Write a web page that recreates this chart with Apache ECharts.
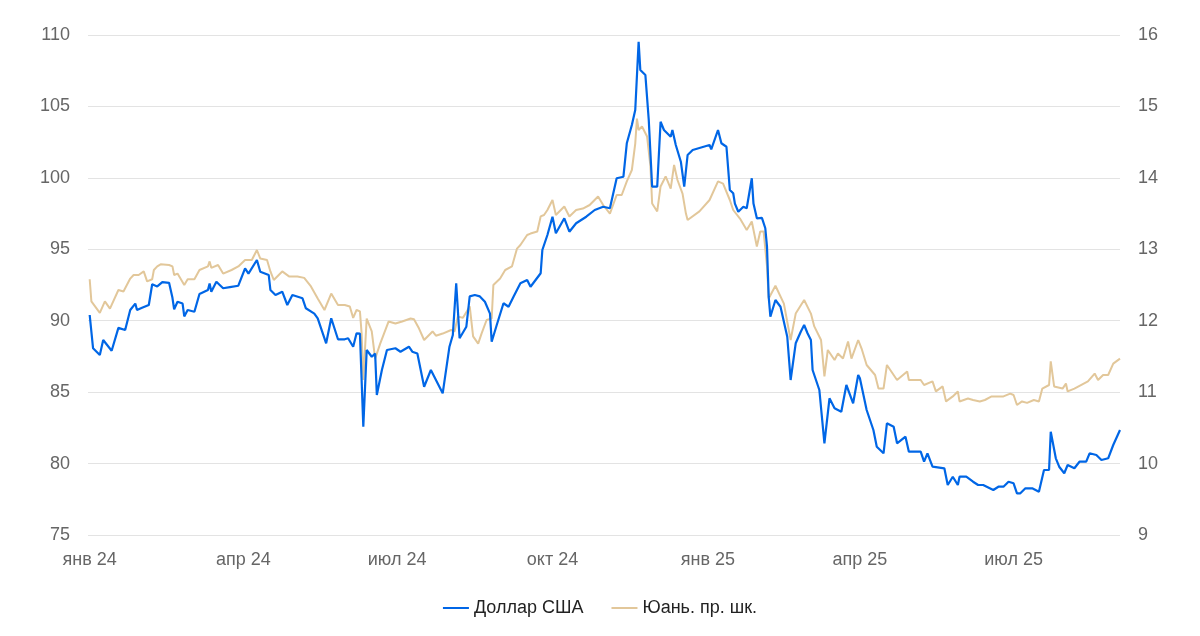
<!DOCTYPE html>
<html>
<head>
<meta charset="utf-8">
<script src="https://cdn.jsdelivr.net/npm/echarts@6/dist/echarts.min.js"></script>
<style>
html,body{margin:0;padding:0;background:#fff;}
#chart{width:1200px;height:636px;}
</style>
</head>
<body>
<div id="chart"></div>
<script>
// Days since 2024-01-01 and values
const usdDays = [0,2,6,8,13,17,21,24,27,28,31,35,37,40,43,47,49,50,52,55,56,58,62,65,70,71,72,75,79,83,88,92,94,99,101,106,107,110,114,117,120,126,128,133,135,140,143,147,151,153,156,158,160,162,164,167,169,170,173,176,181,184,189,191,194,198,202,209,213,215,217,219,223,225,228,231,234,237,238,241,245,248,251,255,259,261,267,268,271,274,276,281,284,288,294,299,304,308,312,316,318,321,323,325,326,329,331,333,336,338,340,344,345,347,350,352,354,357,367,368,372,374,377,379,381,382,384,387,389,392,393,395,398,400,401,402,403,406,409,413,415,418,421,423,425,427,428,432,435,438,441,445,448,452,455,456,460,464,466,470,472,476,478,483,485,492,494,496,499,506,508,511,514,515,519,523,526,529,535,538,541,544,547,549,551,554,558,562,565,568,569,572,574,577,579,583,586,590,592,596,599,603,606,610];
const usdValues = [90.4,88.07,87.6,88.65,87.9,89.5,89.35,90.75,91.2,90.75,90.9,91.1,92.55,92.4,92.7,92.65,91.6,90.8,91.33,91.2,90.3,90.75,90.63,91.87,92.15,92.6,92.03,92.73,92.27,92.35,92.45,93.67,93.3,94.25,93.43,93.2,92.15,91.8,92.03,91.1,91.8,91.57,90.87,90.5,90.17,88.42,90.17,88.7,88.7,88.77,88.18,89.12,89.1,82.58,87.95,87.48,87.7,84.8,86.55,87.95,88.07,87.83,88.18,87.83,87.7,85.38,86.55,84.92,88.18,89.0,92.62,88.77,89.58,91.7,91.8,91.7,91.33,90.5,88.53,89.7,91.22,90.98,91.7,92.62,92.85,92.38,93.32,94.95,96.0,97.28,96.12,97.17,96.23,96.82,97.28,97.75,97.98,97.87,99.97,100.08,102.42,103.7,104.75,109.53,107.55,107.2,104.05,99.38,99.38,103.93,103.35,102.88,103.35,102.3,101.13,99.38,101.6,101.95,102.3,102.0,103.35,102.42,102.18,99.15,98.92,98.2,97.63,97.98,97.87,99.97,98.2,97.17,97.2,96.47,95.18,91.68,90.28,91.45,90.98,88.88,85.85,88.42,89.23,89.7,89.12,88.65,86.55,85.15,81.42,84.57,83.87,83.63,85.5,84.22,86.2,85.97,83.75,82.35,81.18,80.72,82.82,82.58,81.42,81.88,80.83,80.83,80.13,80.72,79.78,79.67,78.5,79.08,78.5,79.08,79.08,78.73,78.5,78.5,78.15,78.38,78.38,78.73,78.62,77.92,77.92,78.27,78.27,78.03,79.55,79.55,82.23,80.37,79.78,79.32,79.9,79.67,80.13,80.13,80.72,80.6,80.25,80.37,81.3,82.35];

const cnyDays = [0,1,6,9,12,17,20,24,26,29,32,34,37,38,40,42,47,49,50,52,56,58,62,65,70,71,72,76,79,84,88,92,96,99,101,105,107,109,114,118,123,127,131,135,139,143,147,151,154,156,158,160,161,162,164,167,169,172,177,181,185,190,192,195,198,203,205,209,214,216,218,221,225,227,230,232,235,238,239,243,246,250,253,255,259,261,265,267,269,271,274,276,281,284,288,292,296,301,304,308,312,315,318,321,323,324,325,327,330,332,333,336,338,341,344,346,348,351,353,354,361,367,372,375,379,381,385,389,392,395,397,399,401,402,406,411,415,418,423,427,429,433,435,437,441,443,446,449,451,455,457,460,465,467,470,472,478,484,485,492,494,499,501,505,507,511,514,515,520,523,527,530,534,541,545,547,549,552,555,559,562,564,568,569,571,576,578,579,583,591,595,597,600,603,606,610];
const cnyValues = [12.58,12.27,12.11,12.27,12.17,12.43,12.41,12.59,12.64,12.64,12.69,12.55,12.58,12.71,12.76,12.79,12.78,12.76,12.64,12.66,12.5,12.58,12.58,12.71,12.76,12.83,12.74,12.78,12.66,12.71,12.76,12.85,12.85,12.99,12.87,12.85,12.69,12.57,12.69,12.62,12.62,12.6,12.48,12.31,12.15,12.38,12.22,12.22,12.2,12.04,12.15,12.13,11.82,11.17,12.03,11.85,11.47,11.68,11.99,11.96,11.99,12.03,12.02,11.89,11.73,11.85,11.79,11.82,11.87,11.85,12.06,12.04,12.2,11.78,11.68,11.82,12.01,12.03,12.5,12.59,12.71,12.76,13.01,13.06,13.2,13.22,13.25,13.46,13.48,13.55,13.69,13.48,13.6,13.46,13.55,13.57,13.62,13.74,13.62,13.5,13.76,13.76,13.95,14.11,14.48,14.83,14.67,14.72,14.58,14.16,13.64,13.53,13.88,14.02,13.85,14.18,13.97,13.78,13.5,13.41,13.53,13.69,13.95,13.92,13.69,13.55,13.43,13.27,13.39,13.04,13.25,13.25,12.76,12.31,12.49,12.24,11.73,12.1,12.29,12.1,11.92,11.73,11.22,11.59,11.45,11.54,11.47,11.71,11.47,11.73,11.61,11.38,11.24,11.05,11.05,11.38,11.17,11.29,11.17,11.17,11.1,11.15,11.01,11.08,10.87,10.94,11.01,10.87,10.91,10.89,10.87,10.89,10.94,10.94,10.98,10.96,10.82,10.87,10.85,10.89,10.87,11.05,11.1,11.43,11.08,11.05,11.12,11.01,11.05,11.15,11.26,11.17,11.24,11.24,11.4,11.47];

const monthNames = ['янв','фев','мар','апр','май','июн','июл','авг','сен','окт','ноя','дек'];
const tickDates = [[2024,0],[2024,3],[2024,6],[2024,9],[2025,0],[2025,3],[2025,6]];
const leftTicks = {min:75, max:110, interval:5};
const rightTicks = {min:9, max:16, interval:1};
const seriesNames = ['Доллар США','Юань. пр. шк.'];

function toTs(d){ return Date.UTC(2024,0,1+d); }
function pairs(days, vals){ return days.map((d,i)=>[toTs(d), vals[i]]); }

const chart = echarts.init(document.getElementById('chart'), null, {renderer:'canvas'});
const font = 'Liberation Sans, Arial, sans-serif';
chart.setOption({
  animation:false,
  backgroundColor:'#fff',
  grid:{left:88, right:80, top:35, bottom:101, containLabel:false, outerBoundsMode:'none'},
  legend:{
    data:seriesNames,
    bottom:14, left:'center',
    icon:'rect', itemWidth:26, itemHeight:2, itemGap:28,
    textStyle:{fontFamily:font, fontSize:18, color:'#222'}
  },
  xAxis:{
    type:'value',
    min:toTs(-1), max:toTs(usdDays[usdDays.length-1]),
    axisLine:{show:false},
    axisTick:{show:false},
    splitLine:{show:false},
    axisLabel:{
      customValues: tickDates.map(t=>Date.UTC(t[0],t[1],1)),
      formatter:function(v){ const d=new Date(v); return monthNames[d.getUTCMonth()]+' '+String(d.getUTCFullYear()).slice(2); },
      fontFamily:font, fontSize:18, color:'#666', margin:16, hideOverlap:false
    }
  },
  yAxis:[
    {type:'value', min:leftTicks.min, max:leftTicks.max, interval:leftTicks.interval, position:'left',
     axisLine:{show:false}, axisTick:{show:false},
     splitLine:{show:true, lineStyle:{color:'#e3e3e3', width:1}},
     axisLabel:{fontFamily:font, fontSize:18, color:'#666', margin:18}},
    {type:'value', min:rightTicks.min, max:rightTicks.max, interval:rightTicks.interval, position:'right',
     axisLine:{show:false}, axisTick:{show:false}, splitLine:{show:false},
     axisLabel:{fontFamily:font, fontSize:18, color:'#666', margin:18}}
  ],
  series:[
    {name:seriesNames[1], type:'line', yAxisIndex:1, data:pairs(cnyDays,cnyValues),
     showSymbol:false, symbol:'none', z:2,
     lineStyle:{color:'#E2C79A', width:2}, itemStyle:{color:'#E2C79A'}},
    {name:seriesNames[0], type:'line', yAxisIndex:0, data:pairs(usdDays,usdValues),
     showSymbol:false, symbol:'none', z:3,
     lineStyle:{color:'#0066E6', width:2.2}, itemStyle:{color:'#0066E6'}}
  ]
});
</script>
</body>
</html>
